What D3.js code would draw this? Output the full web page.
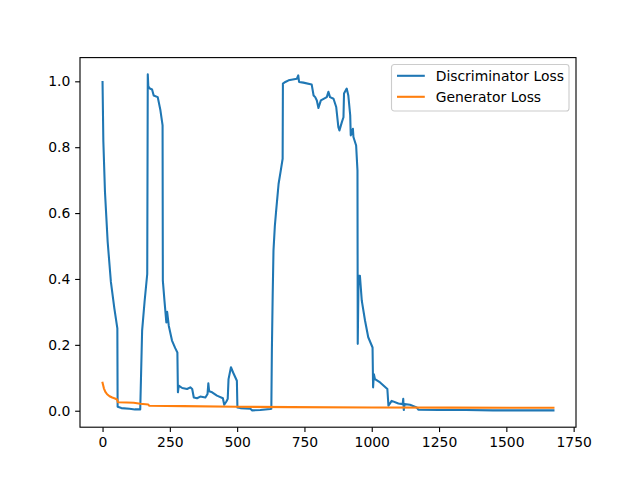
<!DOCTYPE html>
<html>
<head>
<meta charset="utf-8">
<script src="https://cdn.jsdelivr.net/npm/d3@7/dist/d3.min.js"></script>
<style>
  body { margin: 0; background: #fff; }
  svg { display: block; font-family: "DejaVu Sans", sans-serif; }
</style>
</head>
<body>
<svg id="chart" width="640" height="480"></svg>
<script>
// discriminator loss (step, loss)
const discSteps = [0, 3, 9, 19, 31, 44, 55, 56, 70, 100, 120, 140, 147, 156, 166, 168, 170, 176, 184, 190, 205, 215, 223, 224,
  230, 237, 240, 246, 258, 270, 278, 280, 283, 296, 314, 326, 333, 339, 351, 363, 382, 390, 393, 396, 407, 425, 447, 452, 460, 465,
  468, 477, 485, 499, 501, 512, 549, 556, 586, 623, 627, 629, 632, 635, 640, 645, 654, 662, 669, 670, 679, 691, 722, 727, 730, 746,
  777, 784, 790, 796, 802, 811, 833, 839, 845, 858, 868, 876, 880, 889, 895, 897, 907, 913, 920, 922, 930, 932, 942, 947, 948, 951,
  956, 963, 975, 987, 1003, 1005, 1008, 1012, 1031, 1058, 1062, 1074, 1099, 1115, 1117, 1119, 1122, 1142, 1167, 1173, 1250, 1350,
  1450, 1550, 1675];
const discLoss = [0.998, 0.817, 0.665, 0.513, 0.391, 0.31, 0.25, 0.012, 0.008, 0.006, 0.004, 0.004, 0.243, 0.33, 0.415, 1.021, 0.985, 0.978, 0.975, 0.957, 0.952, 0.912, 0.866, 0.395,
  0.334, 0.268, 0.30, 0.258, 0.213, 0.19, 0.177, 0.056, 0.076, 0.069, 0.066, 0.071, 0.066, 0.040, 0.038, 0.043, 0.040, 0.051, 0.083, 0.059, 0.056, 0.046, 0.038, 0.018, 0.028, 0.036,
  0.096, 0.132, 0.116, 0.091, 0.010, 0.008, 0.006, 0.001, 0.002, 0.005, 0.006, 0.182, 0.35, 0.486, 0.56, 0.608, 0.689, 0.729, 0.765, 0.993, 0.998, 1.003, 1.008, 1.018, 0.998, 0.996,
  0.99, 0.957, 0.952, 0.942, 0.919, 0.942, 0.952, 0.968, 0.952, 0.947, 0.922, 0.861, 0.851, 0.876, 0.891, 0.963, 0.978, 0.957, 0.897, 0.836, 0.856, 0.831, 0.805, 0.729, 0.203, 0.41,
  0.41, 0.334, 0.274, 0.223, 0.192, 0.071, 0.111, 0.096, 0.086, 0.066, 0.015, 0.030, 0.022, 0.020, 0.036, 0.002, 0.020, 0.018, 0.010, 0.003, 0.002, 0.002,
  0.001, 0.001, 0.001];

// generator loss
const genSteps = [0, 5, 10, 17, 26, 36, 46, 54, 57, 90, 116, 140, 170, 173, 300, 500, 700, 1000, 1300, 1675];
const genLoss = [0.085, 0.068, 0.058, 0.05, 0.044, 0.04, 0.037, 0.034, 0.026, 0.025, 0.024, 0.021, 0.019, 0.015, 0.014, 0.012, 0.011, 0.010, 0.0095, 0.009];

const xTicks = [0, 250, 500, 750, 1000, 1250, 1500, 1750];
const yTicks = [0.0, 0.2, 0.4, 0.6, 0.8, 1.0];
const seriesNames = ["Discriminator Loss", "Generator Loss"];
const colors = ["#1f77b4", "#ff7f0e"];

const mLeft = 80, mRight = 576, mTop = 57.6, mBottom = 427.2;
const fs = 13.9, tick = 4.86;

const svg = d3.select("#chart");

const xExt = d3.extent(discSteps.concat(genSteps));
const yExt = d3.extent(discLoss.concat(genLoss));
const xPad = (xExt[1] - xExt[0]) * 0.05, yPad = (yExt[1] - yExt[0]) * 0.05;

const x = d3.scaleLinear().domain([xExt[0] - xPad, xExt[1] + xPad]).range([mLeft, mRight]);
const y = d3.scaleLinear().domain([yExt[0] - yPad, yExt[1] + yPad]).range([mBottom, mTop]);

const series = [
  discSteps.map((s, i) => [s, discLoss[i]]),
  genSteps.map((s, i) => [s, genLoss[i]])
];

const line = d3.line().x(d => x(d[0])).y(d => y(d[1]));

const plot = svg.append("g");
plot.append("clipPath").attr("id", "clip")
  .append("rect").attr("x", mLeft).attr("y", mTop).attr("width", mRight - mLeft).attr("height", mBottom - mTop);

plot.selectAll("path.series")
  .data(series)
  .enter()
  .append("path")
  .attr("class", "series")
  .attr("clip-path", "url(#clip)")
  .attr("d", line)
  .attr("fill", "none")
  .attr("stroke", (d, i) => colors[i])
  .attr("stroke-width", 2.08)
  .attr("stroke-linejoin", "round")
  .attr("stroke-linecap", "square");

// axes
const xAxis = svg.append("g")
  .attr("transform", `translate(0,${mBottom})`)
  .call(d3.axisBottom(x).tickValues(xTicks).tickFormat(d3.format("d")).tickSizeInner(tick).tickSizeOuter(0).tickPadding(4.86));
const yAxis = svg.append("g")
  .attr("transform", `translate(${mLeft},0)`)
  .call(d3.axisLeft(y).tickValues(yTicks).tickFormat(d3.format(".1f")).tickSizeInner(tick).tickSizeOuter(0).tickPadding(4.86));

[xAxis, yAxis].forEach(a => {
  a.select(".domain").remove();
  a.selectAll("line").attr("stroke", "#000").attr("stroke-width", 1.11);
  a.selectAll("text").attr("fill", "#000").style("font-size", fs + "px").style("font-family", "DejaVu Sans");
});

// frame
svg.append("rect")
  .attr("x", mLeft).attr("y", mTop)
  .attr("width", mRight - mLeft).attr("height", mBottom - mTop)
  .attr("fill", "none").attr("stroke", "#000").attr("stroke-width", 1.11);

// legend
const lg = svg.append("g").attr("transform", "translate(391.5,64.5)");
lg.append("rect")
  .attr("width", 177.5).attr("height", 46.5)
  .attr("rx", 2.8)
  .attr("fill", "#fff").attr("fill-opacity", 0.8)
  .attr("stroke", "#cccccc").attr("stroke-width", 1.11);
const items = lg.selectAll("g.item").data(seriesNames).enter().append("g")
  .attr("class", "item")
  .attr("transform", (d, i) => `translate(0,${11.3 + i * 21})`);
items.append("line")
  .attr("x1", 5.5).attr("x2", 33.3)
  .attr("stroke", (d, i) => colors[i]).attr("stroke-width", 2.08);
items.append("text")
  .attr("x", 44.2).attr("dy", "0.36em")
  .style("font-size", fs + "px")
  .text(d => d);
</script>
</body>
</html>
